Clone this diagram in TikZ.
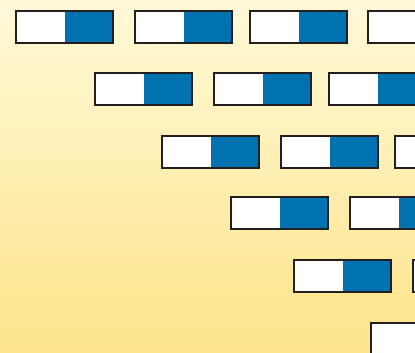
\documentclass[tikz,border=0pt]{standalone}
\usepackage{xcolor}
\usepackage{tikz}
\usetikzlibrary{positioning}
\definecolor{cellblue}  {RGB}{0,114,175}
\definecolor{celledge}  {RGB}{35,31,32}
\definecolor{bgtop}     {RGB}{255,249,216}
\definecolor{bgbottom}  {RGB}{253,228,138}

\begin{document}
\begin{tikzpicture}[
  x=1pt,y=-1pt,
  cell/.style={draw=celledge,line width=2pt,fill=white,
               minimum width=97pt,minimum height=32pt,inner sep=0pt,
               path picture={\fill[cellblue]
                 (path picture bounding box.north)
                 rectangle (path picture bounding box.south east);}},
]

%% Background
\useasboundingbox (0,0) rectangle (415,353);
\shade[top color=bgtop,bottom color=bgbottom] (0,0) rectangle (415,353);

%% Rows of half-filled cells (left edges, centre y)
\foreach \x [count=\i] in {15,134,249,367}
  \node[cell] (c1-\i) at (\x+49.5, 27) {};
\foreach \x [count=\i] in {94,213,328}
  \node[cell] (c2-\i) at (\x+49.5, 89) {};
\foreach \x [count=\i] in {161,280,394}
  \node[cell] (c3-\i) at (\x+49.5, 152) {};
\foreach \x [count=\i] in {230,349}
  \node[cell] (c4-\i) at (\x+49.5, 213) {};
\foreach \x [count=\i] in {293,412}
  \node[cell] (c5-\i) at (\x+49.5, 276) {};
\node[cell] (c6-1) at (370+49.5, 339) {};

\end{tikzpicture}
\end{document}
